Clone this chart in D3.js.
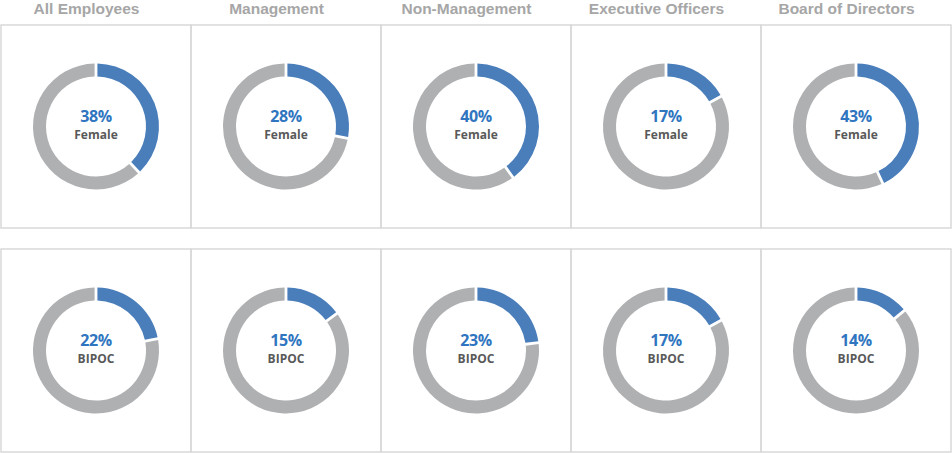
<!DOCTYPE html>
<html>
<head>
<meta charset="utf-8">
<script src="https://cdn.jsdelivr.net/npm/d3@7"></script>
<style>
  body { margin: 0; background: #fff; }
  .title { font-family: "Liberation Sans", Arial, sans-serif; font-weight: bold; font-size: 15.5px; fill: #a6a6a6; }
  .pct { font-family: "Open Sans", sans-serif; font-weight: bold; font-size: 16px; fill: #2f75c0; letter-spacing: -0.4px; }
  .lbl { font-family: "Open Sans", sans-serif; font-weight: bold; font-size: 12px; fill: #595959; }
  .frame { fill: none; stroke: #d9d9d9; stroke-width: 1.5; }
</style>
</head>
<body>
<svg id="chart" width="952" height="453"></svg>
<script>
var groups = ['All Employees', 'Management', 'Non-Management', 'Executive Officers', 'Board of Directors'];
var rowLabels = ['Female', 'BIPOC'];
var femalePct = [38, 28, 40, 17, 43];
var bipocPct = [22, 15, 23, 17, 14];

const width = 952;
const outerR = 63;
const innerR = 50;

var svg = d3.select('#chart');

var x = d3.scaleBand().domain(groups).range([1, 951]).paddingInner(0);
var rows = [
  { label: rowLabels[0], values: femalePct, top: 25, bottom: 228 },
  { label: rowLabels[1], values: bipocPct, top: 249, bottom: 452 }
];

var pie = d3.pie().sort(null).value(d => d);
var arc = d3.arc().innerRadius(innerR).outerRadius(outerR).padAngle(0.035);

// column titles, slightly left of panel centre like the original
svg.selectAll('.title')
  .data(groups)
  .enter()
  .append('text')
  .classed('title', true)
  .attr('x', d => x(d) + x.bandwidth() / 2 - 9.5)
  .attr('y', 14)
  .attr('text-anchor', 'middle')
  .text(d => d);

rows.forEach(function(row) {
  var cells = groups.map((g, i) => ({ group: g, value: row.values[i] }));
  var cy = (row.top + row.bottom) / 2;

  var cellSel = svg.selectAll('.cell-' + row.label)
    .data(cells)
    .enter()
    .append('g')
    .attr('class', 'cell-' + row.label);

  cellSel.append('rect')
    .classed('frame', true)
    .attr('x', d => x(d.group))
    .attr('y', row.top)
    .attr('width', x.bandwidth())
    .attr('height', row.bottom - row.top);

  var donut = cellSel.append('g')
    .attr('transform', d => `translate(${x(d.group) + x.bandwidth() / 2}, ${cy})`);

  donut.selectAll('path')
    .data(d => pie([d.value, 100 - d.value]))
    .enter()
    .append('path')
    .attr('d', arc)
    .attr('fill', (d, i) => i === 0 ? '#4a7ebb' : '#afb0b2');

  donut.append('text')
    .classed('pct', true)
    .attr('text-anchor', 'middle')
    .attr('y', -5)
    .text(d => d.value + '%');

  donut.append('text')
    .classed('lbl', true)
    .attr('text-anchor', 'middle')
    .attr('y', 12)
    .text(row.label);
});
</script>
</body>
</html>
